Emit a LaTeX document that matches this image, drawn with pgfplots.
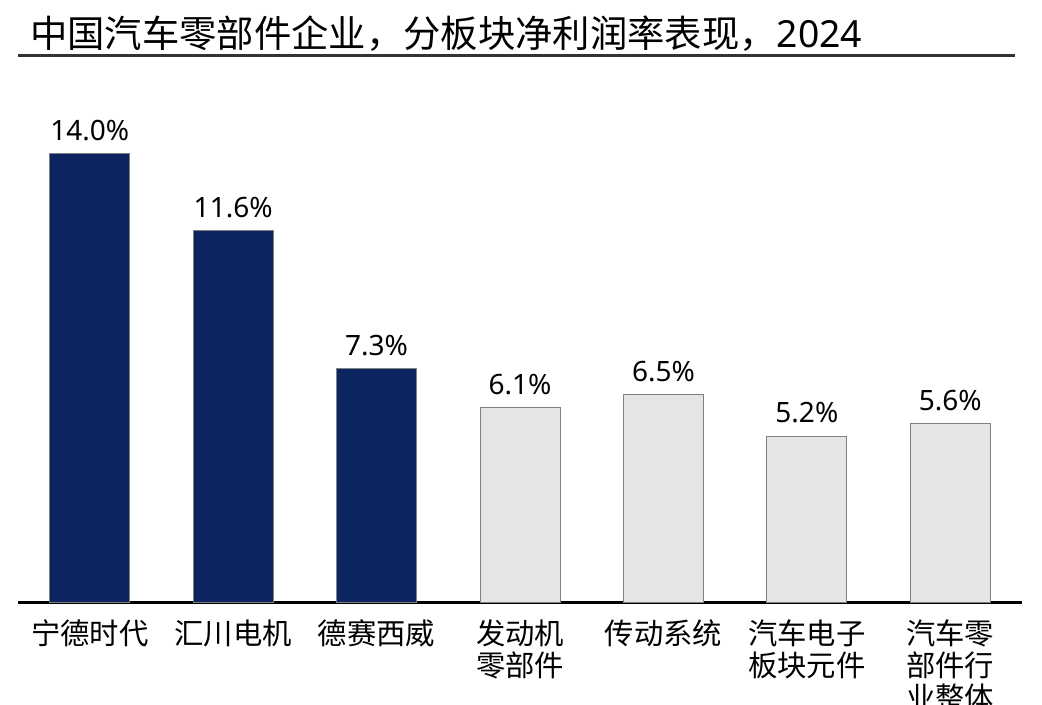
\documentclass[border=0pt]{standalone}
\usepackage{pgfplots}
\pgfplotsset{compat=1.18}
\usepackage{fontspec}
\setmainfont{Noto Sans}
\newfontfamily\cjk{Noto Sans CJK SC}
\definecolor{navy}{RGB}{12,37,96}
\definecolor{lgrey}{RGB}{229,229,229}
\definecolor{bgrey}{RGB}{128,128,128}
\definecolor{tline}{RGB}{51,51,51}
\begin{document}
\begin{tikzpicture}[x=0.75pt,y=0.75pt]
\node[anchor=base west, inner sep=0pt, font=\fontsize{28}{32}\selectfont] at (30,657) {{\cjk 中国汽车零部件企业，分板块净利润率表现，}2024};
\draw[tline, line width=2.25pt] (18,649) -- (1015,649);
\begin{axis}[
  at={(13.5pt,76.5pt)}, anchor=south west,
  scale only axis, width=753pt, height=360.8pt,
  xmin=-0.5, xmax=6.5, ymin=0, ymax=15,
  hide y axis,
  axis x line*=bottom,
  x axis line style={-, line width=2.25pt, black},
  xtick={0,1,2,3,4,5,6},
  xticklabels={{宁德时代},{汇川电机},{德赛西威},{发动机\\零部件},{传动系统},{汽车电子\\板块元件},{汽车零\\部件行\\业整体}},
  xticklabel style={align=center, anchor=north, font=\cjk\fontsize{22}{24}\selectfont, yshift=-5pt},
  xtick style={draw=none},
  ybar, bar width=60pt, bar shift=0pt,
  /pgf/number format/assume math mode=true,
  nodes near coords={\pgfmathprintnumber[fixed, fixed zerofill, precision=1, assume math mode=true]{\pgfplotspointmeta}\%},
  nodes near coords style={font=\fontsize{21}{24}\selectfont, black, yshift=6pt},
  clip=false,
]
\addplot[fill=navy, draw=bgrey, line width=0.75pt] coordinates {(0,14.0) (1,11.6) (2,7.3)};
\addplot[fill=lgrey, draw=bgrey, line width=0.75pt] coordinates {(3,6.1) (4,6.5) (5,5.2) (6,5.6)};
\end{axis}
\pgfresetboundingbox
\path[use as bounding box] (0,0) rectangle (1042,705);
\end{tikzpicture}
\end{document}
